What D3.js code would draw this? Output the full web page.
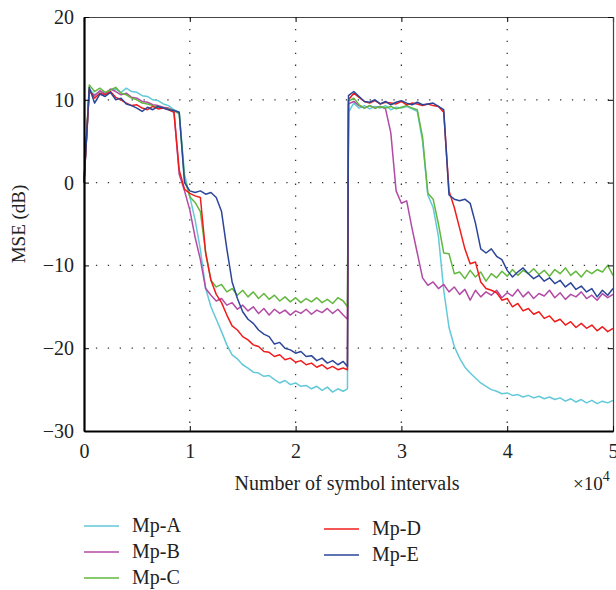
<!DOCTYPE html>
<html>
<head>
<meta charset="utf-8">
<script src="https://cdn.jsdelivr.net/npm/d3@7"></script>
<style>
  body { margin: 0; background: #fff; }
  svg text { font-family: "Liberation Serif", "DejaVu Serif", serif; fill: #222; }
</style>
</head>
<body>
<div id="chart"></div>
<script>
// x positions (symbol intervals), one extra sample just before the reset at 2.5e4
const xVals = d3.range(0, 25000, 500).concat([24900]).concat(d3.range(25000, 50001, 500));

const seriesNames = ["Mp-A", "Mp-B", "Mp-C", "Mp-D", "Mp-E"];
const seriesColors = ["#62c9d8", "#b24aa6", "#62b83e", "#f01c1c", "#2b4699"];

const mpA = [0, 11.3, 10.6, 11.0, 10.8, 11.2, 11.3, 10.9, 11.4, 11.0, 10.9, 10.5, 10.4, 10.0, 9.9, 9.5, 9.3, 8.8, 8.5, 1.0,
  -1.7, -4.5, -8.1, -12.8, -15.0, -16.5, -18.0, -19.6, -20.8, -21.3, -22.0, -22.4, -22.9, -23.0, -23.4, -23.3, -23.8, -24.2, -23.9, -24.4,
  -24.2, -24.6, -24.5, -24.9, -24.6, -25.1, -24.7, -25.3, -24.9, -25.2, -24.9,
  8.5, 9.6, 9.0, 9.3, 8.9, 9.2, 9.0, 9.3, 8.8, 9.1, 9.0, 9.2, 8.9, 8.6, 5.0, -1.5, -3.0, -6.5, -13.0, -17.5,
  -19.8, -21.2, -22.3, -23.0, -23.6, -24.2, -24.6, -25.0, -25.2, -25.5, -25.4, -25.7, -25.6, -25.9, -25.7, -26.0, -25.8, -26.1, -25.9, -26.2,
  -26.0, -26.4, -26.1, -26.5, -26.2, -26.6, -26.3, -26.7, -26.4, -26.6, -26.3];

const mpB = [0, 11.0, 10.5, 11.1, 10.7, 11.3, 11.0, 10.6, 10.8, 10.3, 10.2, 9.8, 9.7, 9.4, 9.3, 9.1, 9.0, 8.7, 1.0, -1.0,
  -3.3, -6.6, -9.3, -12.8, -13.6, -14.3, -14.0, -14.8, -14.5, -15.3, -14.8, -15.5, -15.0, -15.8, -15.2, -16.0, -15.3, -15.8, -15.4, -16.0,
  -15.5, -15.8, -15.3, -15.9, -15.4, -15.7, -15.2, -15.8, -15.3, -16.0, -16.5,
  9.5, 9.8, 9.3, 9.0, 9.3, 9.0, 9.2, 8.9, 6.0, -1.0, -2.5, -2.2, -5.5, -8.5, -11.5, -12.4, -12.0, -12.8, -12.3, -13.2,
  -12.6, -13.5, -12.9, -14.2, -13.0, -13.8, -13.2, -13.6, -13.0, -13.9, -13.3, -13.7, -12.9, -13.8, -13.2, -14.0, -13.4, -13.7, -13.0, -13.9,
  -13.3, -14.1, -13.5, -13.8, -13.2, -14.0, -13.6, -14.2, -13.4, -13.9, -13.5];

const mpC = [0, 11.8, 11.0, 11.4, 10.9, 11.2, 11.5, 10.8, 10.6, 10.2, 10.0, 9.6, 9.5, 9.3, 9.1, 9.0, 8.9, 8.7, 8.3, 0.5,
  -1.7, -2.4, -3.5, -8.5, -11.8, -12.6, -12.3, -13.2, -12.8, -13.6, -13.0, -13.8, -13.2, -14.0, -13.4, -14.1, -13.6, -14.3, -13.8, -14.4,
  -13.9, -14.5, -14.0, -14.4, -13.9, -14.5, -14.1, -14.6, -13.9, -14.3, -15.0,
  9.8, 10.2, 9.4, 9.0, 9.3, 9.0, 9.2, 9.0, 9.2, 8.9, 9.1, 9.3, 9.0, 8.8, 5.5, -1.3, -2.0, -5.0, -8.5, -8.6,
  -11.0, -10.8, -11.6, -10.6, -11.4, -10.8, -11.9, -11.0, -11.5, -10.7, -11.3, -10.5, -11.2, -10.6, -11.0, -10.4, -11.1, -10.6, -11.3, -10.5,
  -11.0, -10.3, -11.2, -10.7, -11.4, -10.6, -11.0, -10.5, -10.8, -10.0, -11.2];

const mpD = [0, 11.2, 10.2, 10.8, 10.6, 11.0, 10.3, 10.0, 9.6, 9.3, 9.4, 9.0, 8.8, 9.2, 8.9, 9.0, 8.8, 8.5, 1.5, -0.8,
  -1.3, -1.6, -1.8, -8.5, -11.8, -13.5, -14.5, -16.0, -17.3, -17.8, -18.6, -19.0, -19.6, -19.8, -20.4, -20.5, -21.0, -20.8, -21.4, -21.2,
  -21.7, -21.5, -22.0, -21.8, -22.3, -22.0, -22.5, -22.2, -22.6, -22.4, -22.6,
  10.0, 10.8, 10.3, 9.8, 9.6, 9.9, 9.5, 9.7, 9.6, 9.5, 9.8, 9.4, 9.6, 9.5, 9.3, 9.5, 9.3, 9.2, 8.5, -1.0,
  -3.0, -5.5, -8.0, -9.8, -9.6, -12.0, -12.8, -13.0, -13.3, -14.2, -14.0, -15.0, -14.6, -15.5, -15.2, -15.9, -15.6, -16.4, -16.1, -16.8,
  -16.5, -17.2, -16.8, -17.5, -17.0, -17.6, -17.2, -17.9, -17.4, -18.0, -17.6];

const mpE = [0, 11.5, 9.6, 10.7, 10.4, 10.9, 10.0, 10.2, 9.5, 9.3, 9.0, 8.6, 9.1, 8.8, 9.2, 9.0, 8.8, 8.7, 8.5, 0.0,
  -1.0, -1.2, -1.0, -1.4, -1.2, -1.8, -3.5, -8.0, -12.0, -14.0, -15.6, -16.5, -17.0, -17.8, -18.3, -18.6, -19.5, -19.3, -20.0, -20.2,
  -20.6, -20.4, -21.0, -20.9, -21.5, -21.2, -21.8, -21.5, -22.0, -21.6, -22.2,
  10.5, 11.0, 10.4, 9.8, 9.7, 10.0, 9.5, 9.8, 9.4, 9.7, 9.9, 9.6, 9.4, 9.7, 9.4, 9.5, 9.6, 9.2, 8.8, -1.5,
  -2.0, -2.2, -2.0, -2.5, -4.9, -8.0, -8.5, -8.0, -8.9, -9.3, -10.6, -11.4, -10.8, -10.3, -11.0, -11.6, -11.2, -11.9, -11.5, -12.2,
  -11.8, -12.6, -12.1, -12.9, -12.5, -13.2, -12.8, -13.8, -13.0, -13.6, -12.8];

const seriesValues = [mpA, mpB, mpC, mpD, mpE];

const xTicks = [0, 10000, 20000, 30000, 40000, 50000];
const yTicks = [-30, -20, -10, 0, 10, 20];

const W = 616, H = 590;
const margin = {top: 17, right: 3, bottom: 159, left: 84};
const width = W - margin.left - margin.right;
const height = H - margin.top - margin.bottom;

const svg = d3.select("#chart").append("svg")
    .attr("width", W)
    .attr("height", H);

const g = svg.append("g")
    .attr("transform", `translate(${margin.left},${margin.top})`);

const x = d3.scaleLinear().domain([0, 50000]).range([0, width]);
const y = d3.scaleLinear().domain([-30, 20]).range([height, 0]);

// dotted grid
g.append("g")
    .selectAll("line")
    .data(xTicks.slice(1, -1))
    .join("line")
    .attr("x1", d => x(d)).attr("x2", d => x(d))
    .attr("y1", 0).attr("y2", height)
    .attr("stroke", "#333")
    .attr("stroke-width", 1.3)
    .attr("stroke-dasharray", "1.3,10.6");
g.append("g")
    .selectAll("line")
    .data(yTicks.slice(1, -1))
    .join("line")
    .attr("x1", 0).attr("x2", width)
    .attr("y1", d => y(d)).attr("y2", d => y(d))
    .attr("stroke", "#333")
    .attr("stroke-width", 1.3)
    .attr("stroke-dasharray", "1.3,10.6");

// lines
const line = d3.line()
    .x((d, i) => x(xVals[i]))
    .y(d => y(d));

g.selectAll(".series")
    .data(seriesValues)
    .join("path")
    .attr("class", "series")
    .attr("d", d => line(d))
    .attr("fill", "none")
    .attr("stroke", (d, i) => seriesColors[i])
    .attr("stroke-width", 1.5)
    .attr("stroke-linejoin", "round");

// top and right frame with inward ticks
const topAxis = d3.axisTop(x).tickValues(xTicks).tickSize(-5).tickFormat("");
g.append("g").call(topAxis)
    .call(a => a.select(".domain").attr("stroke", "#444").attr("stroke-width", 1.2));
const rightAxis = d3.axisRight(y).tickValues(yTicks).tickSize(-5).tickFormat("");
g.append("g").attr("transform", `translate(${width},0)`).call(rightAxis)
    .call(a => a.select(".domain").attr("stroke", "#444").attr("stroke-width", 1.2));

// bottom and left axes
const xAxis = d3.axisBottom(x).tickValues(xTicks).tickSizeInner(-5).tickSizeOuter(0)
    .tickPadding(13).tickFormat(d => d / 10000);
g.append("g").attr("transform", `translate(0,${height})`).call(xAxis)
    .attr("font-family", null)
    .call(a => a.select(".domain").attr("stroke", "#000").attr("stroke-width", 2.2))
    .selectAll("text")
    .style("font-size", "20px");

const yAxis = d3.axisLeft(y).tickValues(yTicks).tickSizeInner(-5).tickSizeOuter(0)
    .tickPadding(10).tickFormat(d => d < 0 ? "\u2212" + Math.abs(d) : d);
g.append("g").call(yAxis)
    .attr("font-family", null)
    .call(a => a.select(".domain").attr("stroke", "#000").attr("stroke-width", 2.2))
    .selectAll("text")
    .style("font-size", "20px");

// axis labels
svg.append("text")
    .attr("transform", `translate(25,${margin.top + height / 2}) rotate(-90)`)
    .attr("text-anchor", "middle")
    .style("font-size", "19px")
    .text("MSE (dB)");
svg.append("text")
    .attr("x", 347).attr("y", 490)
    .attr("text-anchor", "middle")
    .style("font-size", "20px")
    .text("Number of symbol intervals");
const mult = svg.append("text")
    .attr("x", 573).attr("y", 490)
    .style("font-size", "19px");
mult.append("tspan").text("\u00d710");
mult.append("tspan").attr("dy", -9).style("font-size", "14px").text("4");

// legend
const legendPos = [[84, 526], [84, 552], [84, 578], [324, 529], [324, 555]];
const legend = svg.append("g");
seriesNames.forEach((name, i) => {
    const [lx, ly] = legendPos[i];
    legend.append("line")
        .attr("x1", lx).attr("x2", lx + 35)
        .attr("y1", ly).attr("y2", ly)
        .attr("stroke", seriesColors[i])
        .attr("stroke-width", 1.6);
    legend.append("text")
        .attr("x", lx + 48).attr("y", ly + 6)
        .style("font-size", "20px")
        .text(name);
});
</script>
</body>
</html>
